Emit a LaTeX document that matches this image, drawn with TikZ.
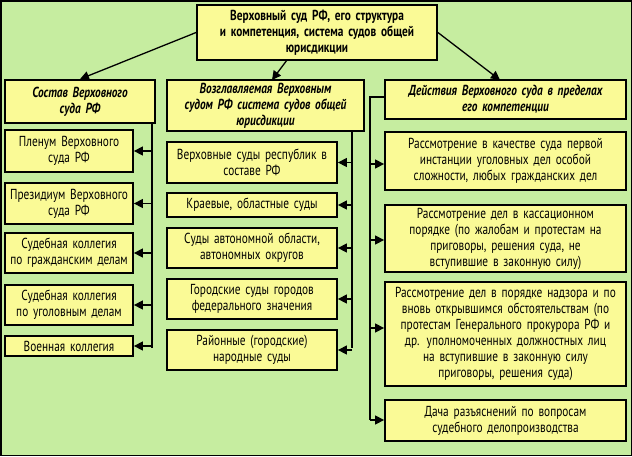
\documentclass[tikz,border=0pt]{standalone}
\usepackage{fontspec}
\setmainfont{PT Sans}[FakeStretch=0.78]
\usetikzlibrary{arrows.meta}
\definecolor{bg}{HTML}{C6EDA0}
\definecolor{bx}{HTML}{FAFA96}
\tikzset{
 box/.style={draw=black,line width=1.8pt,fill=bx,align=center,inner sep=0pt,font=\fontsize{14.5}{16}\selectfont},
 hdr/.style={box,font=\fontsize{14.5}{16}\selectfont\bfseries\itshape},
 con/.style={line width=1.3pt,-{Triangle[length=9pt,width=9pt]}},
 ln/.style={line width=1.3pt}
}
\newcommand{\bxn}[6]{\node[#1,minimum width=#4-#2,minimum height=#5-#3,text width=#4-#2-2] (#6) at ({(#2+#4)/2},{(#3+#5)/2})}
\begin{document}
\begin{tikzpicture}[x=1pt,y=-1pt]
\fill[bg] (0,0) rectangle (632,456);
\draw[line width=1.5pt] (0.75,0.75) rectangle (631.25,455.25);
\bxn{box}{197}{5}{437}{60}{top}{\bfseries Верховный суд РФ, его структура\\ и компетенция, система судов общей\\ юрисдикции};
\bxn{hdr}{5}{80}{155}{123}{h1}{Состав Верховного\\ суда РФ};
\bxn{hdr}{167}{80}{364}{131}{h2}{Возглавляемая Верховным\\ судом РФ система судов общей\\ юрисдикции};
\bxn{hdr}{385}{80}{626}{119}{h3}{Действия Верховного суда в пределах\\ его компетенции};
\draw[con] (top.west) -- (h1.north);
\draw[con] (287,60) -- (272,80);
\draw[con] (top.east) -- (500,80);
% left
\bxn{box}{5}{130}{133}{172}{a1}{Пленум Верховного\\ суда РФ};
\bxn{box}{5}{183}{133}{224}{a2}{Президиум Верховного\\ суда РФ};
\bxn{box}{5}{233}{133}{273}{a3}{Судебная коллегия\\ по гражданским делам};
\bxn{box}{5}{285}{133}{325}{a4}{Судебная коллегия\\ по уголовным делам};
\bxn{box}{5}{336}{133}{356}{a5}{Военная коллегия};
\coordinate (lv) at (152,123);
\draw[ln] (lv) -- (152,348);
\foreach \n in {a1,a2,a3,a4,a5}{\draw[con] (\n.east -| lv) -- (\n.east);}
% middle
\bxn{box}{167}{142}{337}{183}{b1}{Верховные суды республик в\\ составе РФ};
\bxn{box}{167}{193}{337}{217}{b2}{Краевые, областные суды};
\bxn{box}{167}{228}{337}{268}{b3}{Суды автономной области,\\ автономных округов};
\bxn{box}{167}{279}{337}{319}{b4}{Городские суды городов\\ федерального значения};
\bxn{box}{167}{330}{337}{370}{b5}{Районные (городские)\\ народные суды};
\coordinate (mv) at (352,131);
\draw[ln] (mv) -- (352,348);
\foreach \n in {b1,b2,b3,b4,b5}{\draw[con] (\n.east -| mv) -- (\n.east);}
% right
\bxn{box}{385}{132}{626}{190}{c1}{Рассмотрение в качестве суда первой\\ инстанции уголовных дел особой\\ сложности, любых гражданских дел};
\bxn{box}{385}{205}{626}{272}{c2}{Рассмотрение дел в кассационном\\ порядке (по жалобам и протестам на\\ приговоры, решения суда, не\\ вступившие в законную силу)};
\bxn{box}{385}{282}{626}{386}{c3}{Рассмотрение дел в порядке надзора и по\\ вновь открывшимся обстоятельствам (по\\ протестам Генерального прокурора РФ и\\ др. уполномоченных должностных лиц\\ на вступившие в законную силу\\ приговоры, решения суда)};
\bxn{box}{385}{400}{626}{441}{c4}{Дача разъяснений по вопросам\\ судебного делопроизводства};
\coordinate (rv) at (370,97);
\draw[ln] (h3.west |- rv) -- (rv) -- (370,420);
\draw[con] (370,164) -- (c1.west |- 0,164);
\draw[con] (370,240) -- (c2.west |- 0,240);
\draw[con] (370,328) -- (c3.west |- 0,328);
\draw[con] (370,420) -- (c4.west |- 0,420);
\end{tikzpicture}
\end{document}
